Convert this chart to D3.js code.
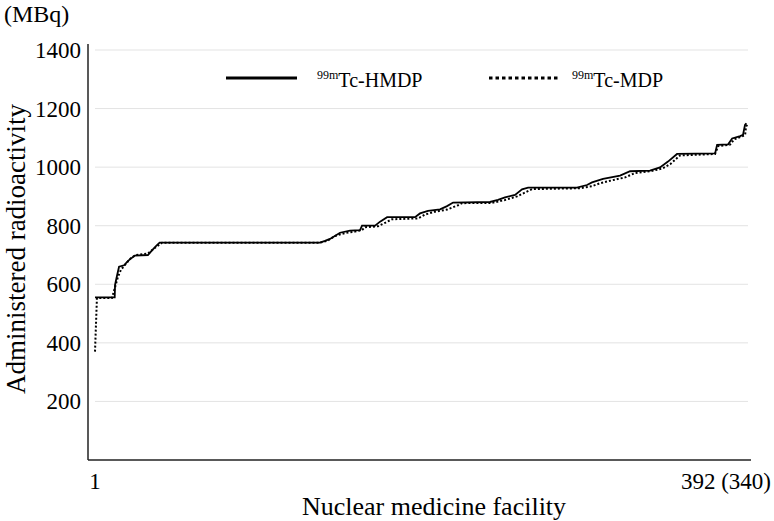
<!DOCTYPE html>
<html>
<head>
<meta charset="utf-8">
<script src="https://cdn.jsdelivr.net/npm/d3@7"></script>
<style>
  body { margin: 0; background: #fff; }
  text { font-family: "Liberation Serif", "Times New Roman", serif; fill: #000; }
</style>
</head>
<body>
<div id="chart"></div>
<script>
var width = 774;
var height = 521;
var margin = {top: 50, left: 95, right: 26, bottom: 61};

// y ticks
var yTicks = [200, 400, 600, 800, 1000, 1200, 1400];

// 99mTc-HMDP, 392 facilities: [rank, MBq] breakpoints
var hmdpRank = [1, 12.8, 13, 14.2, 15.4, 18.4, 20.8, 24.8, 32.7, 35, 37.5, 39.7, 135.7, 138.7, 141.7, 147.7, 153.7, 159.7, 160.9, 168.7, 171.7, 175.9, 192.6, 195.6, 200.4, 207.6, 211.8, 215.4, 237.5, 242.3, 246.5, 252.5, 256.7, 260.3, 289.6, 295.6, 298.6, 305.2, 315.4, 321.4, 333.3, 339.3, 344.1, 349.5, 372.3, 373.5, 380.1, 382.5, 387.3, 389, 390.2, 391];
var hmdpMBq  = [555, 555, 598, 630, 660, 665, 680, 698, 700, 715, 730, 742, 742, 748, 755, 776, 783, 785, 800, 800, 814, 829, 829, 842, 851, 856, 867, 879, 881, 888, 897, 905, 924, 930, 930, 939, 948, 960, 971, 986, 988, 999, 1019, 1045, 1047, 1076, 1078, 1098, 1106, 1110, 1144, 1150];

// 99mTc-MDP, 340 facilities
var mdpRank = [1, 2, 9.8, 11.4, 12.9, 14.5, 17.1, 19.7, 22.3, 28.5, 32.2, 35.8, 117.8, 121.5, 125.6, 130.8, 136, 139.6, 141.2, 147.9, 151.6, 155.2, 168.7, 172.3, 177.5, 183.8, 189.5, 191.6, 207.1, 213.9, 220.1, 224.8, 227.9, 252.8, 259, 263.2, 269.4, 276.2, 281.4, 289.2, 295.4, 299.6, 304.7, 322.9, 324.5, 330.7, 332.8, 336.9, 338.5, 339, 340];
var mdpMBq  = [370, 553, 553, 590, 625, 650, 670, 690, 700, 705, 725, 742, 742, 748, 765, 775, 780, 785, 795, 798, 810, 822, 825, 838, 848, 855, 870, 877, 878, 888, 900, 915, 925, 928, 935, 945, 955, 965, 980, 986, 995, 1010, 1040, 1045, 1072, 1077, 1095, 1105, 1110, 1140, 1146];

var svg = d3.select("#chart")
  .append("svg")
  .attr("width", width)
  .attr("height", height);

var x1 = d3.scaleLinear().domain([1, 392]).range([margin.left, width - margin.right]);
var x2 = d3.scaleLinear().domain([1, 340]).range([margin.left, width - margin.right]);
var y = d3.scaleLinear().domain([0, 1400]).range([height - margin.bottom, margin.top]);

// gridlines
svg.append("g")
  .selectAll("line")
  .data(yTicks)
  .join("line")
    .attr("x1", margin.left)
    .attr("x2", width - margin.right)
    .attr("y1", d => y(d))
    .attr("y2", d => y(d))
    .attr("stroke", "#e3e3e3")
    .attr("stroke-width", 1);

// y tick labels
svg.append("g")
  .selectAll("text")
  .data(yTicks)
  .join("text")
    .attr("x", 81)
    .attr("y", d => y(d))
    .attr("dy", "0.35em")
    .attr("text-anchor", "end")
    .attr("font-size", "23px")
    .text(d => d);

// axis lines
svg.append("line")
  .attr("x1", 88).attr("x2", 88)
  .attr("y1", 44).attr("y2", y(0))
  .attr("stroke", "#222").attr("stroke-width", 1.5);

svg.append("line")
  .attr("x1", 88).attr("x2", 751)
  .attr("y1", y(0)).attr("y2", y(0))
  .attr("stroke", "#222").attr("stroke-width", 1.5);

// lines
var lineH = d3.line()
  .x(d => x1(d[0]))
  .y(d => y(d[1]));
var lineM = d3.line()
  .x(d => x2(d[0]))
  .y(d => y(d[1]));

svg.append("path")
  .datum(d3.zip(mdpRank, mdpMBq))
  .attr("d", lineM)
  .attr("fill", "none")
  .attr("stroke", "#000")
  .attr("stroke-width", 2)
  .attr("stroke-dasharray", "2,2");

svg.append("path")
  .datum(d3.zip(hmdpRank, hmdpMBq))
  .attr("d", lineH)
  .attr("fill", "none")
  .attr("stroke", "#000")
  .attr("stroke-width", 1.8);

// x labels
svg.append("text")
  .attr("x", 95).attr("y", 489)
  .attr("text-anchor", "middle")
  .attr("font-size", "23px")
  .text("1");

svg.append("text")
  .attr("x", 771).attr("y", 489)
  .attr("text-anchor", "end")
  .attr("font-size", "23px")
  .text("392 (340)");

svg.append("text")
  .attr("x", 434).attr("y", 515)
  .attr("text-anchor", "middle")
  .attr("font-size", "26px")
  .text("Nuclear medicine facility");

svg.append("text")
  .attr("transform", "translate(25,249) rotate(-90)")
  .attr("text-anchor", "middle")
  .attr("font-size", "27px")
  .text("Administered radioactivity");

svg.append("text")
  .attr("x", 4).attr("y", 22)
  .attr("font-size", "24px")
  .text("(MBq)");

// legend
var legend = svg.append("g");
legend.append("line")
  .attr("x1", 226).attr("x2", 297)
  .attr("y1", 78).attr("y2", 78)
  .attr("stroke", "#000").attr("stroke-width", 3);
legend.append("line")
  .attr("x1", 489).attr("x2", 560)
  .attr("y1", 78).attr("y2", 78)
  .attr("stroke", "#000").attr("stroke-width", 3)
  .attr("stroke-dasharray", "3.5,3");

var l1 = legend.append("text").attr("x", 317).attr("y", 87).attr("font-size", "20px");
l1.append("tspan").attr("font-size", "12px").attr("dy", "-8").text("99m");
l1.append("tspan").attr("dy", "8").text("Tc-HMDP");

var l2 = legend.append("text").attr("x", 572).attr("y", 87).attr("font-size", "20px");
l2.append("tspan").attr("font-size", "12px").attr("dy", "-8").text("99m");
l2.append("tspan").attr("dy", "8").text("Tc-MDP");
</script>
</body>
</html>
